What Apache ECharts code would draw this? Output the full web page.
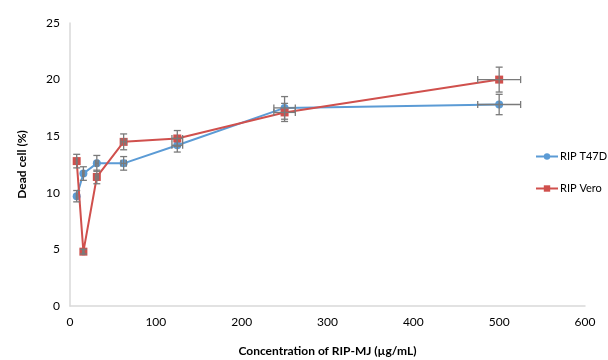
<!DOCTYPE html>
<html>
<head>
<meta charset="utf-8">
<script src="https://cdn.jsdelivr.net/npm/echarts@6/dist/echarts.min.js"></script>
<style>
  html, body { margin: 0; padding: 0; background: #fff; }
  #chart { width: 608px; height: 360px; }
</style>
</head>
<body>
<div id="chart"></div>
<script>
// Concentration (µg/mL)
const conc = [7.8, 15.6, 31.25, 62.5, 125, 250, 500];
const xErr = [0.4, 0.8, 1.6, 3.1, 6.25, 12.5, 25];

// Dead cell (%)
const t47d = [9.7, 11.7, 12.6, 12.6, 14.2, 17.5, 17.8];
const t47dErr = [0.5, 0.6, 0.7, 0.6, 0.6, 1.0, 0.9];
const vero = [12.8, 4.8, 11.4, 14.5, 14.8, 17.1, 20.0];
const veroErr = [0.6, 0.2, 0.6, 0.7, 0.7, 0.8, 1.1];

const chart = echarts.init(document.getElementById('chart'));

const font = 'Lato, "Open Sans", sans-serif';
const blue = '#5B9BD5';
const red = '#D0504D';
const errColor = '#7a7a7a';

function errData(ys, yErr) {
  return conc.map((x, i) => [x, ys[i], xErr[i], yErr[i]]);
}

function renderErr(params, api) {
  const x = api.value(0), y = api.value(1), dx = api.value(2), dy = api.value(3);
  const top = api.coord([x, y + dy]);
  const bot = api.coord([x, y - dy]);
  const lft = api.coord([x - dx, y]);
  const rgt = api.coord([x + dx, y]);
  const cap = 3.5;
  const style = { stroke: errColor, lineWidth: 1.3 };
  const line = (x1, y1, x2, y2) => ({ type: 'line', shape: { x1, y1, x2, y2 }, style });
  return {
    type: 'group',
    children: [
      line(top[0], top[1], bot[0], bot[1]),
      line(top[0] - cap, top[1], top[0] + cap, top[1]),
      line(bot[0] - cap, bot[1], bot[0] + cap, bot[1]),
      line(lft[0], lft[1], rgt[0], rgt[1]),
      line(lft[0], lft[1] - cap, lft[0], lft[1] + cap),
      line(rgt[0], rgt[1] - cap, rgt[0], rgt[1] + cap)
    ]
  };
}

const option = {
  animation: false,
  textStyle: { fontFamily: font },
  legend: {
    orient: 'vertical',
    left: 530,
    top: 146,
    itemGap: 21,
    itemWidth: 22,
    itemHeight: 8,
    data: ['RIP T47D', 'RIP Vero'],
    textStyle: { fontSize: 11, color: '#000', fontFamily: font, padding: [0, 0, 0, -3] }
  },
  grid: { left: 70, right: 23, top: 23, bottom: 54, outerBoundsMode: 'none' },
  xAxis: {
    type: 'value',
    min: 0,
    max: 600,
    interval: 100,
    name: 'Concentration of RIP-MJ (µg/mL)',
    nameLocation: 'middle',
    nameGap: 39,
    nameTextStyle: { fontWeight: 'bold', fontSize: 12, color: '#000', fontFamily: font },
    axisLine: { lineStyle: { color: '#d9d9d9', width: 1.5 } },
    axisTick: { show: false },
    splitLine: { show: false },
    axisLabel: { fontSize: 12, color: '#000', margin: 10, fontFamily: font }
  },
  yAxis: {
    type: 'value',
    min: 0,
    max: 25,
    interval: 5,
    name: 'Dead cell (%)',
    nameLocation: 'middle',
    nameGap: 42,
    nameTextStyle: { fontWeight: 'bold', fontSize: 12, color: '#000', fontFamily: font },
    axisLine: { show: true, lineStyle: { color: '#d9d9d9', width: 1.5 } },
    axisTick: { show: false },
    splitLine: { show: false },
    axisLabel: { fontSize: 12, color: '#000', margin: 10, fontFamily: font }
  },
  series: [
    {
      name: 'RIP T47D',
      type: 'line',
      data: conc.map((x, i) => [x, t47d[i]]),
      symbol: 'circle',
      symbolSize: 8,
      lineStyle: { color: blue, width: 2 },
      itemStyle: { color: blue },
      z: 2
    },
    {
      name: 'RIP Vero',
      type: 'line',
      data: conc.map((x, i) => [x, vero[i]]),
      symbol: 'rect',
      symbolSize: 8,
      lineStyle: { color: red, width: 2 },
      itemStyle: { color: red },
      z: 3
    },
    {
      type: 'custom',
      renderItem: renderErr,
      data: errData(t47d, t47dErr),
      encode: { x: 0, y: 1 },
      z: 4,
      silent: true
    },
    {
      type: 'custom',
      renderItem: renderErr,
      data: errData(vero, veroErr),
      encode: { x: 0, y: 1 },
      z: 4,
      silent: true
    }
  ]
};

chart.setOption(option);
</script>
</body>
</html>
